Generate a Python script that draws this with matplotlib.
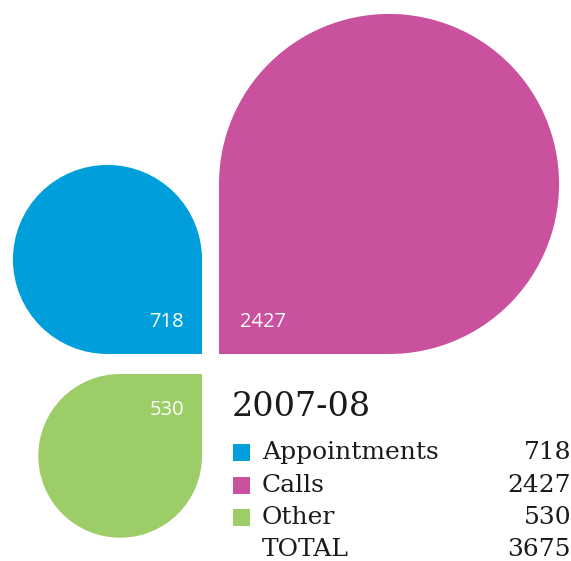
import numpy as np
import matplotlib
matplotlib.use("Agg")
import matplotlib.pyplot as plt
from matplotlib.patches import Circle, Rectangle

# data
categories = ["Appointments", "Calls", "Other"]
values = [718, 2427, 530]
colors = ["#009edb", "#c9519d", "#9ccd67"]
period = "2007-08"
total = sum(values)

# layout: pixel coords of the square corner of each drop, and which way the corner points
corners = [(202, 354), (219, 354), (202, 374)]
corner_dir = [(1, 1), (-1, 1), (1, -1)]
label_pos = [(184, 322, "right"), (240, 322, "left"), (184, 410, "right")]
scale, pad = 3.36, 4.5  # radius = scale * sqrt(value) + pad, in px

fig = plt.figure(figsize=(5.71, 5.61), dpi=100)
ax = fig.add_axes([0, 0, 1, 1])
ax.set_xlim(0, 571)
ax.set_ylim(561, 0)
ax.set_aspect("equal")
ax.axis("off")

for v, c, (qx, qy), (dx, dy), (lx, ly, ha) in zip(values, colors, corners, corner_dir, label_pos):
    r = scale * np.sqrt(v) + pad
    cx, cy = qx - dx * r, qy - dy * r
    ax.add_patch(Circle((cx, cy), r, color=c, lw=0))
    ax.add_patch(Rectangle((min(cx, qx), min(cy, qy)), r, r, color=c, lw=0))
    ax.text(lx, ly, str(v), color="white", fontsize=14.5, family="Open Sans",
            ha=ha, va="center")

serif = "DejaVu Serif"
ax.text(232, 407, period, fontsize=24, family=serif, ha="left", va="center", color="#1a1a1a")
rows_y = [452, 485, 517, 549]
for name, v, c, y in zip(categories, values, colors, rows_y):
    ax.add_patch(Rectangle((233, y - 8.5), 17, 17, color=c, lw=0))
    ax.text(262, y, name, fontsize=18, family=serif, ha="left", va="center", color="#1a1a1a")
    ax.text(571, y, str(v), fontsize=18, family=serif, ha="right", va="center", color="#1a1a1a")
ax.text(262, rows_y[3], "TOTAL", fontsize=18, family=serif, ha="left", va="center", color="#1a1a1a")
ax.text(571, rows_y[3], str(total), fontsize=18, family=serif, ha="right", va="center", color="#1a1a1a")

fig.savefig("out.png", dpi=100)
